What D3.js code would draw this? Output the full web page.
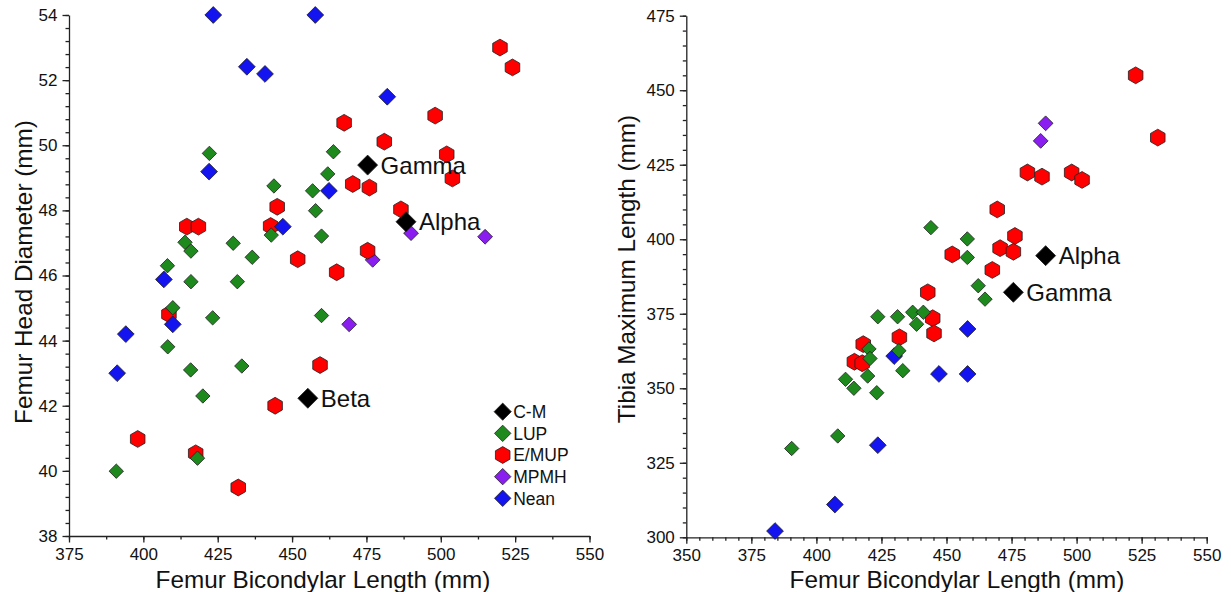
<!DOCTYPE html>
<html><head><meta charset="utf-8">
<script src="https://cdn.jsdelivr.net/npm/d3@7/dist/d3.min.js"></script>
<style>
body{margin:0;background:#fff}
svg{display:block}
text{font-family:"Liberation Sans",Arial,Helvetica,sans-serif;fill:#111}
</style>
</head><body>
<svg id="chart" width="1231" height="592"></svg>
<script>
// ---------- series ----------
const seriesNames = ["C-M", "LUP", "E/MUP", "MPMH", "Nean"];
const seriesFill = {"C-M":"#000000", "LUP":"#1e8a1e", "E/MUP":"#ff0000", "MPMH":"#8a1ef0", "Nean":"#1414f0"};

// ---------- Panel A: Femur bicondylar length vs femur head diameter ----------
const headCM = [[475.4,49.39,"Gamma"],[488.3,47.65,"Alpha"],[455.3,42.23,"Beta"]];
const headLUP = [[422.2,49.75],[463.9,49.80],[462.0,49.12],[443.9,48.75],[456.9,48.60],[457.9,47.99],
  [459.9,47.21],[443.0,47.24],[414.0,47.02],[416.0,46.75],[430.2,46.99],[436.6,46.56],[408.1,46.30],
  [416.0,45.81],[431.6,45.81],[409.9,45.01],[423.3,44.70],[459.9,44.77],[408.2,43.81],[415.9,43.10],
  [433.1,43.22],[420.0,42.30],[418.2,40.39],[390.9,39.99]];
const headEMUP = [[519.9,53.0],[524.1,52.39],[467.5,50.69],[498.1,50.91],[481.0,50.11],[502.0,49.72],
  [503.9,48.98],[470.4,48.81],[476.0,48.70],[486.6,48.03],[445.0,48.11],[414.6,47.50],[418.5,47.50],
  [442.8,47.52],[475.4,46.76],[451.9,46.50],[465.0,46.10],[408.6,44.81],[459.4,43.25],[444.3,42.0],
  [398.1,40.98],[417.6,40.54],[431.9,39.49]];
const headMPMH = [[490.0,47.30],[514.9,47.19],[477.1,46.48],[469.2,44.50]];
const headNean = [[423.5,54.0],[457.8,54.0],[434.8,52.41],[440.9,52.19],[482.0,51.49],[422.1,49.19],
  [462.4,48.60],[446.9,47.50],[406.9,45.88],[394.1,44.20],[409.9,44.50],[391.2,43.00]];

// ---------- Panel B: Femur bicondylar length vs tibia maximum length ----------
const tibCM = [[488.1,394.5,"Alpha"],[475.7,382.2,"Gamma"]];
const tibLUP = [[444.0,403.9],[458.0,400.1],[458.0,393.9],[462.2,384.4],[464.8,379.9],[437.0,375.5],
  [441.1,375.5],[438.5,371.5],[423.6,374.0],[431.2,374.0],[431.7,362.6],[433.2,355.9],[420.2,363.2],
  [420.6,360.0],[419.7,354.1],[411.2,353.0],[414.4,350.0],[423.2,348.5],[408.2,334.0],[390.5,329.8]];
const tibEMUP = [[522.7,455.0],[531.2,434.1],[481.1,422.4],[486.7,421.0],[498.1,422.4],[502.1,419.9],
  [469.5,410.0],[476.3,401.1],[470.6,397.0],[475.7,395.8],[452.2,394.9],[467.6,389.7],[442.8,382.2],
  [444.7,373.5],[445.2,368.4],[431.9,367.1],[418.0,364.8],[414.6,358.9],[417.6,358.4]];
const tibMPMH = [[488.1,438.9],[486.2,433.0]];
const tibNean = [[458.1,369.9],[447.1,354.8],[458.1,354.8],[429.9,360.8],[423.6,330.9],[407.1,311.0],[384.1,302.1]];

// ---------- ticks ----------
const headXTicks = [375,400,425,450,475,500,525,550];
const headYTicks = [38,40,42,44,46,48,50,52,54];
const tibXTicks = [350,375,400,425,450,475,500,525,550];
const tibYTicks = [300,325,350,375,400,425,450,475];

const headXTitle = "Femur Bicondylar Length (mm)";
const headYTitle = "Femur Head Diameter (mm)";
const tibXTitle = "Femur Bicondylar Length (mm)";
const tibYTitle = "Tibia Maximum Length (mm)";

// ---------- drawing ----------
const svg = d3.select("#chart");
svg.append("rect").attr("width",1231).attr("height",592).attr("fill","#fff");

const symSize = {"C-M":10, "LUP":7.2, "E/MUP":8.4, "MPMH":7.4, "Nean":8.4};
function symbolPath(name, r){
  if(name === "E/MUP"){
    const pts = d3.range(6).map(k => {const a = (-90 + 60*k) * Math.PI/180; return [r*Math.cos(a), r*Math.sin(a)];});
    return "M" + pts.map(p => p[0].toFixed(2)+","+p[1].toFixed(2)).join("L") + "Z";
  }
  return `M0,${-r}L${r},0L0,${r}L${-r},0Z`;
}

function minorRange(a, b, step){
  const out = [];
  for(let v = a; v <= b + 1e-9; v += step) out.push(+v.toFixed(4));
  return out;
}

function panel(cfg){
  const g = svg.append("g");
  const x = d3.scaleLinear().domain(cfg.xDomain).range(cfg.xRange);
  const y = d3.scaleLinear().domain(cfg.yDomain).range(cfg.yRange);
  const x0 = cfg.xRange[0], y0 = cfg.yRange[0];

  // minor ticks (no labels)
  g.append("g").attr("transform",`translate(0,${y0})`)
    .call(d3.axisBottom(x).tickValues(minorRange(cfg.xDomain[0], cfg.xDomain[1], cfg.xMinor)).tickSize(3.5).tickFormat(""))
    .call(s => { s.select(".domain").remove(); s.selectAll("text").remove(); });
  g.append("g").attr("transform",`translate(${x0},0)`)
    .call(d3.axisLeft(y).tickValues(minorRange(cfg.yDomain[0], cfg.yDomain[1], cfg.yMinor)).tickSize(3.5).tickFormat(""))
    .call(s => { s.select(".domain").remove(); s.selectAll("text").remove(); });

  // major axes
  const ax = g.append("g").attr("transform",`translate(0,${y0})`)
    .call(d3.axisBottom(x).tickValues(cfg.xTicks).tickSize(6.5).tickSizeOuter(0).tickPadding(5).tickFormat(d3.format("d")));
  const ay = g.append("g").attr("transform",`translate(${x0},0)`)
    .call(d3.axisLeft(y).tickValues(cfg.yTicks).tickSize(6.5).tickSizeOuter(0).tickPadding(5).tickFormat(d3.format("d")));
  [ax, ay].forEach(a => {
    a.selectAll("text").attr("font-size", 17).attr("font-family", null).style("fill","#111");
    a.selectAll("line,path").attr("stroke","#222").attr("stroke-width",1.3);
  });
  g.selectAll("line").attr("stroke","#222").attr("stroke-width",1.3);

  // titles
  g.append("text").attr("x", cfg.xTitlePos[0]).attr("y", cfg.xTitlePos[1])
    .attr("text-anchor","middle").attr("font-size",24.3).text(cfg.xTitle);
  g.append("text").attr("transform",`translate(${cfg.yTitlePos[0]},${cfg.yTitlePos[1]}) rotate(-90)`)
    .attr("text-anchor","middle").attr("font-size",24.3).text(cfg.yTitle);

  // points (draw order)
  const order = ["MPMH","E/MUP","Nean","LUP","C-M"];
  order.forEach(name => {
    const data = cfg.series[name];
    g.append("g").selectAll("path").data(data).join("path")
      .attr("transform", d => `translate(${x(d[0])},${y(d[1])})`)
      .attr("d", symbolPath(name, symSize[name]))
      .attr("fill", seriesFill[name])
      .attr("stroke", "#202020").attr("stroke-width", 0.8);
  });
  // labels
  g.append("g").selectAll("text").data(cfg.series["C-M"]).join("text")
    .attr("x", d => x(d[0]) + 13).attr("y", d => y(d[1])).attr("dy","0.36em")
    .attr("font-size",24).text(d => d[2]);
  return {g, x, y};
}

const A = panel({
  xDomain:[375,550], xRange:[69,589.5], yDomain:[38,54], yRange:[536,15],
  xTicks: headXTicks, yTicks: headYTicks, xMinor: 12.5, yMinor: 0.4,
  xTitle: headXTitle, yTitle: headYTitle, xTitlePos:[323,587.5], yTitlePos:[31.5,272],
  series: {"C-M":headCM, "LUP":headLUP, "E/MUP":headEMUP, "MPMH":headMPMH, "Nean":headNean}
});
panel({
  xDomain:[350,550], xRange:[686.3,1206.7], yDomain:[300,475], yRange:[537.3,15.7],
  xTicks: tibXTicks, yTicks: tibYTicks, xMinor: 5, yMinor: 5,
  xTitle: tibXTitle, yTitle: tibYTitle, xTitlePos:[957,587.5], yTitlePos:[635,269],
  series: {"C-M":tibCM, "LUP":tibLUP, "E/MUP":tibEMUP, "MPMH":tibMPMH, "Nean":tibNean}
});

// legend (panel A)
const leg = A.g.append("g").attr("transform","translate(502.7,411.7)");
seriesNames.forEach((name, i) => {
  const row = leg.append("g").attr("transform",`translate(0,${i*21.65})`);
  row.append("path").attr("d", symbolPath(name, name === "C-M" ? 8.6 : (name === "E/MUP" ? 8.4 : 8.2)))
    .attr("fill", seriesFill[name]).attr("stroke","#202020").attr("stroke-width",0.8);
  row.append("text").attr("x", 10.5).attr("dy","0.36em").attr("font-size",17.5).text(name);
});
</script>
</body></html>
